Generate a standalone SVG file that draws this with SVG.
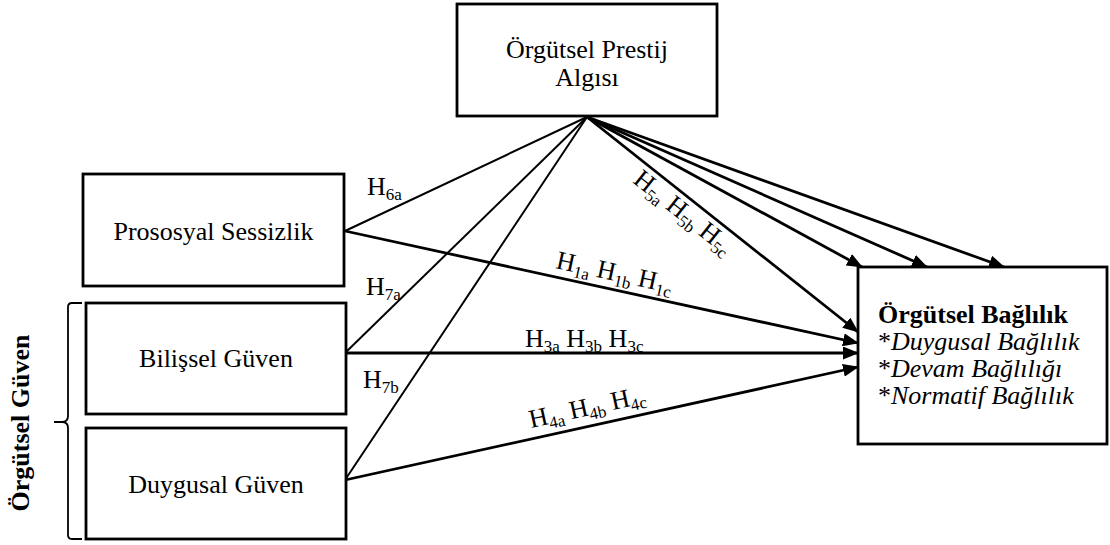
<svg xmlns="http://www.w3.org/2000/svg" width="1110" height="545" viewBox="0 0 1110 545">
<style>
.box{fill:#fff;stroke:#000;stroke-width:2.8}
.t{font-family:"Liberation Serif","Times New Roman",serif;font-size:26px;fill:#000}
.h{font-family:"Liberation Serif","Times New Roman",serif;font-size:26px;fill:#000}
.s{font-size:17px}
.ln{stroke:#000;stroke-width:2;fill:none}
.ar{stroke:#000;stroke-width:2.8;fill:none;marker-end:url(#ah)}
</style>
<defs>
<marker id="ah" markerUnits="userSpaceOnUse" markerWidth="16" markerHeight="13" refX="15" refY="6.5" orient="auto">
<path d="M0,0 L16,6.5 L0,13 z" fill="#000"/>
</marker>
</defs>
<rect width="1110" height="545" fill="#fff"/>
<g id="connectors">
<line class="ln" x1="587" y1="117" x2="345" y2="231"/>
<line class="ln" x1="587" y1="117" x2="345" y2="353"/>
<line class="ln" x1="587" y1="117" x2="345" y2="480"/>
<line class="ar" x1="345" y1="231" x2="858" y2="343"/>
<line class="ar" x1="345" y1="353" x2="858" y2="353"/>
<line class="ar" x1="345" y1="480" x2="858" y2="367"/>
<line class="ar" x1="587" y1="117" x2="858" y2="332"/>
<line class="ar" x1="587" y1="117" x2="862" y2="267"/>
<line class="ar" x1="587" y1="117" x2="927" y2="267"/>
<line class="ar" x1="587" y1="117" x2="1004" y2="267"/>
<text class="h" x="367" y="195">H<tspan class="s" dy="5">6a</tspan></text>
<text class="h" x="366" y="295">H<tspan class="s" dy="5">7a</tspan></text>
<text class="h" x="363" y="388">H<tspan class="s" dy="5">7b</tspan></text>
<text class="h" x="525" y="347">H<tspan class="s" dy="5">3a</tspan><tspan dy="-5"> H</tspan><tspan class="s" dy="5">3b</tspan><tspan dy="-5"> H</tspan><tspan class="s" dy="5">3c</tspan></text>
<text class="h" transform="translate(555,268) rotate(12.3)">H<tspan class="s" dy="5">1a</tspan><tspan dy="-5"> H</tspan><tspan class="s" dy="5">1b</tspan><tspan dy="-5"> H</tspan><tspan class="s" dy="5">1c</tspan></text>
<text class="h" transform="translate(531,428) rotate(-12.4)">H<tspan class="s" dy="5">4a</tspan><tspan dy="-5"> H</tspan><tspan class="s" dy="5">4b</tspan><tspan dy="-5"> H</tspan><tspan class="s" dy="5">4c</tspan></text>
<text class="h" transform="translate(632,182) rotate(38.4)">H<tspan class="s" dy="5">5a</tspan><tspan dy="-5"> H</tspan><tspan class="s" dy="5">5b</tspan><tspan dy="-5"> H</tspan><tspan class="s" dy="5">5c</tspan></text>
</g>
<g id="n-prestij">
<rect class="box" x="457" y="4" width="260" height="112"/>
<text class="t" x="587" y="58" text-anchor="middle">Örgütsel Prestij</text>
<text class="t" x="587" y="86" text-anchor="middle">Algısı</text>
</g>
<g id="n-prososyal">
<rect class="box" x="83" y="174" width="261" height="112"/>
<text class="t" x="213.5" y="240" text-anchor="middle">Prososyal Sessizlik</text>
</g>
<g id="n-bilissel">
<rect class="box" x="86" y="303" width="260" height="111"/>
<text class="t" x="216" y="367" text-anchor="middle">Bilişsel Güven</text>
</g>
<g id="n-duygusal">
<rect class="box" x="86" y="428" width="260" height="111"/>
<text class="t" x="216" y="493" text-anchor="middle">Duygusal Güven</text>
</g>
<g id="n-guven-group">
<path d="M82,303 H72 Q68,303 68,307 V416 Q68,422 62,422 H54 H62 Q68,422 68,428 V535 Q68,539 72,539 H82" fill="none" stroke="#000" stroke-width="1.8"/>
<text class="t" font-weight="bold" text-anchor="middle" transform="translate(29,423) rotate(-90)">Örgütsel Güven</text>
</g>
<g id="n-baglilik">
<rect class="box" x="858" y="267" width="249" height="177"/>
<text class="t" x="878" y="323" font-weight="bold">Örgütsel Bağlılık</text>
<text class="t" x="878" y="350">*<tspan font-style="italic">Duygusal Bağlılık</tspan></text>
<text class="t" x="878" y="377">*<tspan font-style="italic">Devam Bağlılığı</tspan></text>
<text class="t" x="878" y="404">*<tspan font-style="italic">Normatif Bağlılık</tspan></text>
</g>
</svg>
